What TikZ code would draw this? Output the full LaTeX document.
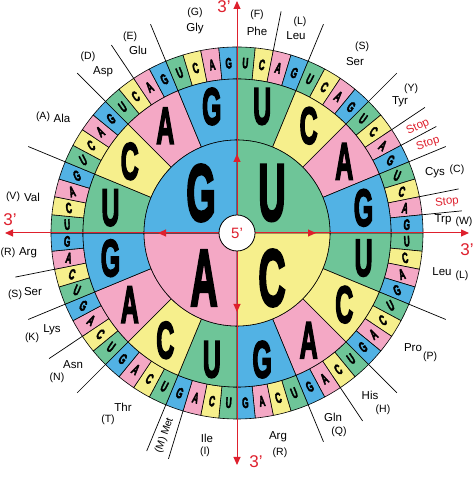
\documentclass[tikz,border=0pt]{standalone}
\usepackage{fontspec}
\setmainfont{Liberation Sans}
\newfontfamily\heavyfont{Liberation Sans}[BoldFeatures={FakeBold=4}]
\usetikzlibrary{arrows.meta}
\definecolor{cU}{RGB}{110,197,152}
\definecolor{cC}{RGB}{246,239,140}
\definecolor{cA}{RGB}{244,168,197}
\definecolor{cG}{RGB}{82,178,228}
\definecolor{axisred}{RGB}{222,32,45}
\tikzset{
  cell/.style={draw=black, line width=0.6pt},
  hugel/.style={font=\heavyfont\bfseries\fontsize{80}{80}\selectfont, inner sep=0, xscale=0.47},
  bigl/.style={font=\heavyfont\bfseries\fontsize{52}{52}\selectfont, inner sep=0, xscale=0.48},
  smalll/.style={font=\heavyfont\bfseries\fontsize{15}{15}\selectfont, inner sep=0, xscale=0.55},
  sepline/.style={line width=0.7pt},
  redline/.style={draw=axisred, line width=1pt, -{Triangle[length=8pt,width=7pt]}},
  lab/.style={font=\fontsize{11.5}{12}\selectfont, inner sep=0},
  tag/.style={font=\fontsize{10.5}{11}\selectfont, inner sep=0},
  stoplab/.style={lab, text=axisred},
  prime/.style={font=\fontsize{17}{17}\selectfont, text=axisred, inner sep=0}
}
\begin{document}
\begin{tikzpicture}[x=1pt, y=1pt]
\useasboundingbox (0,0) rectangle (474,500);
\begin{scope}[shift={(237,267)}]
  \coordinate (O) at (0,0);
  % third base, 64 cells
  \foreach \f in {0,...,3} \foreach \s in {0,...,3} \foreach \t/\tb in {0/U,1/C,2/A,3/G} {
    \pgfmathsetmacro\ca{90-5.625*(16*\f+4*\s+\t)} \pgfmathsetmacro\cb{\ca-5.625}
    \pgfmathsetmacro\cm{\ca-2.8125} \pgfmathsetmacro\rot{-35*sin(2*\cm)}
    \filldraw[cell, fill=c\tb] (\ca:154) arc (\ca:\cb:154) -- (\cb:186) arc (\cb:\ca:186) -- cycle;
    \node[rotate=\rot, smalll] (t\f\s\t) at (\cm:170) {\tb};
  }
  % second base
  \foreach \f in {0,...,3} \foreach \s/\secb in {0/U,1/C,2/A,3/G} {
    \pgfmathsetmacro\ssa{90-22.5*(4*\f+\s)} \pgfmathsetmacro\sse{\ssa-22.5}
    \pgfmathsetmacro\ssm{\ssa-11.25}
    \filldraw[cell, fill=c\secb] (\ssa:93) arc (\ssa:\sse:93) -- (\sse:154) arc (\sse:\ssa:154) -- cycle;
    \node[bigl] (s\f\s) at (\ssm:129) {\secb};
  }
  % first base
  \foreach \fb/\fa/\fx/\fy in {U/90/35/40, C/0/35/-45, A/270/-33/-45, G/180/-36/40} {
    \pgfmathsetmacro\fe{\fa-90}
    \filldraw[cell, fill=c\fb] (O) -- (\fa:93) arc (\fa:\fe:93) -- cycle;
    \node[hugel] (f\fb) at (\fx,\fy) {\fb};
  }
  % group borders
  \foreach \i in {2,4,8,10,11,12,14,15,20,24,26,28,40,42,44,46,52,56,58,60}
    \draw[sepline] (90-5.625*\i:186) -- (90-5.625*\i:226);
  \foreach \i in {35,36} \draw[sepline] (90-5.625*\i:186) -- (90-5.625*\i:236);
  % axes
  \foreach \ang in {0,90,180,270} {
    \draw[redline] (\ang:18) -- (\ang:79);
    \draw[redline] (\ang:72) -- (\ang:232);
  }
  \node[circle, draw, fill=white, minimum size=36pt, inner sep=0, line width=0.8pt,
        text=axisred, font=\fontsize{15}{15}\selectfont] (five) at (O) {5'};
  \node[tag, rotate=70.3] (met) at (250.3:215) {(M) Met};
\end{scope}
% 3' ends
\node[prime] (top3) at (224,493) {3'};
\node[prime] (rt3) at (467,250) {3'};
\node[prime] (bot3) at (256,38) {3'};
\node[prime] (lt3) at (10,280) {3'};
% amino acids
\node[tag] (gG) at (195,487) {(G)}; \node[lab] (gly) at (195,471) {Gly};
\node[tag] (gF) at (257,485) {(F)}; \node[lab] (phe) at (257,469) {Phe};
\node[tag] (gL) at (300,478) {(L)}; \node[lab] (leu1) at (296,464) {Leu};
\node[tag] (gS) at (362,453) {(S)}; \node[lab] (ser1) at (355,438) {Ser};
\node[lab] (tyr) at (400,398) {Tyr}; \node[tag] (gY) at (411,411) {(Y)};
\node[stoplab, rotate=25] (stop1) at (418,373) {Stop};
\node[stoplab, rotate=18] (stop2) at (428,356) {Stop};
\node[lab] (cys) at (435,327) {Cys}; \node[tag] (gC) at (457,330) {(C)};
\node[stoplab, rotate=6] (stop3) at (447,298) {Stop};
\node[lab] (trp) at (443,280) {Trp}; \node[tag] (gW) at (464,278) {(W)};
\node[lab] (leu2) at (442,228) {Leu}; \node[tag] (gL2) at (462,224) {(L)};
\node[lab] (pro) at (413,152) {Pro}; \node[tag] (gP) at (430,143) {(P)};
\node[lab] (his) at (370,105) {His}; \node[tag] (gH) at (383,90) {(H)};
\node[lab] (gln) at (333,83) {Gln}; \node[tag] (gQ) at (339,68) {(Q)};
\node[lab] (arg1) at (278,63) {Arg}; \node[tag] (gR) at (280,47) {(R)};
\node[lab] (ile) at (207,62) {Ile}; \node[tag] (gI) at (205,48) {(I)};
\node[lab] (thr) at (123,93) {Thr}; \node[tag] (gT) at (108,80) {(T)};
\node[lab] (asn) at (73,135) {Asn}; \node[tag] (gN) at (57,122) {(N)};
\node[lab] (lys) at (52,170) {Lys}; \node[tag] (gK) at (32,162) {(K)};
\node[lab] (ser2) at (33,208) {Ser}; \node[tag] (gS2) at (15,205) {(S)};
\node[lab] (arg2) at (28,247) {Arg}; \node[tag] (gR2) at (8,247) {(R)};
\node[lab] (val) at (32,303) {Val}; \node[tag] (gV) at (13,303) {(V)};
\node[lab] (ala) at (62,382) {Ala}; \node[tag] (gA) at (43,383) {(A)};
\node[tag] (gD) at (88,443) {(D)}; \node[lab] (asp) at (103,428) {Asp};
\node[tag] (gE) at (130,463) {(E)}; \node[lab] (glu) at (138,450) {Glu};
\end{tikzpicture}
\end{document}
